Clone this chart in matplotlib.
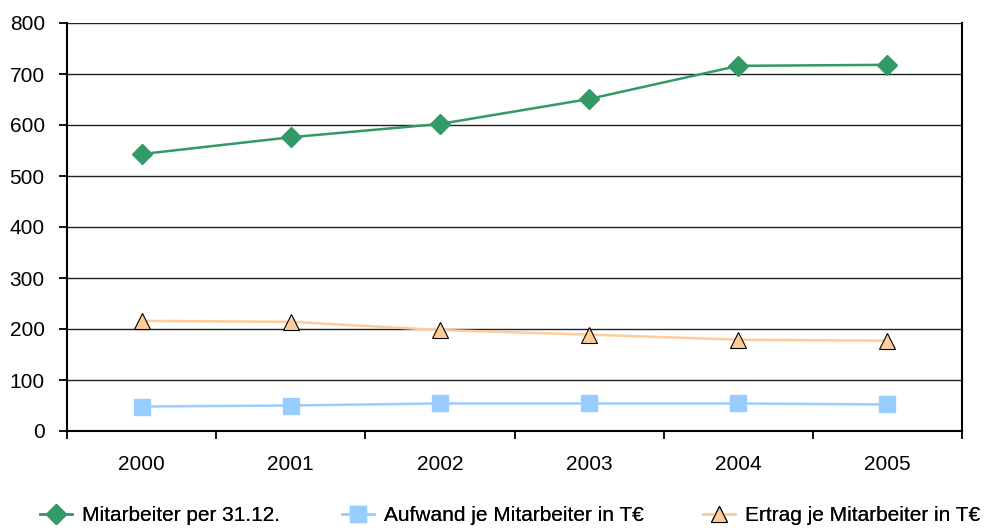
import matplotlib
matplotlib.use("Agg")
import matplotlib.pyplot as plt

plt.rcParams['font.family'] = ['Liberation Sans', 'DejaVu Sans']

years = ["2000", "2001", "2002", "2003", "2004", "2005"]
mitarbeiter = [543, 576, 602, 651, 716, 718]
aufwand = [48, 50, 54, 54, 54, 52]
ertrag = [216, 214, 198, 189, 179, 177]
y_ticks = [0, 100, 200, 300, 400, 500, 600, 700, 800]

W, H = 986, 528
fig = plt.figure(figsize=(W / 100, H / 100), dpi=100)
ax = fig.add_axes([67 / W, 1 - 431 / H, (962 - 67) / W, (431 - 23) / H])

x = list(range(len(years)))
l1, = ax.plot(x, mitarbeiter, color="#339966", lw=1.8, marker="D", ms=10,
              mec="#339966", mfc="#339966", label="Mitarbeiter per 31.12.", zorder=4)
l2, = ax.plot(x, aufwand, color="#99CCFF", lw=1.8, marker="s", ms=12,
              mec="#99CCFF", mfc="#99CCFF", label="Aufwand je Mitarbeiter in T€", zorder=4)
l3, = ax.plot(x, ertrag, color="#FFCC99", lw=1.8, marker="^", ms=12,
              mec="black", mew=0.8, mfc="#FFCC99", label="Ertrag je Mitarbeiter in T€", zorder=4)

ax.set_xlim(-0.5, len(years) - 0.5)
ax.set_ylim(0, 800)
ax.set_yticks(y_ticks)
ax.set_yticklabels([str(v) for v in y_ticks], fontsize=15)
ax.yaxis.grid(True, color="#222222", lw=1)
ax.set_axisbelow(True)

# category labels sit between boundary ticks
ax.set_xticks([i - 0.5 for i in range(len(years) + 1)])
ax.set_xticklabels([])
ax.set_xticks(x, minor=True)
ax.set_xticklabels(years, minor=True, fontsize=15)
ax.tick_params(axis="x", which="major", direction="out", length=6, width=1.3, color="black")
ax.tick_params(axis="x", which="minor", length=0, pad=17)
ax.tick_params(axis="y", direction="out", length=6, width=1.3, color="black", pad=10)

for side in ["left", "bottom", "right"]:
    ax.spines[side].set_color("black")
    ax.spines[side].set_linewidth(1.5)
ax.spines["top"].set_visible(False)

# one legend entry per series, spread along the bottom
legend_y = 1 - 515.5 / H
for handle, x_px in [(l1, 40), (l2, 342), (l3, 703)]:
    leg = fig.legend(handles=[handle], loc="center left",
                     bbox_to_anchor=(x_px / W, legend_y), frameon=False,
                     fontsize=15, handlelength=1.55, handletextpad=0.48,
                     borderpad=0, borderaxespad=0)
    fig.add_artist(leg)

fig.savefig("out.png", dpi=100, facecolor="white")
